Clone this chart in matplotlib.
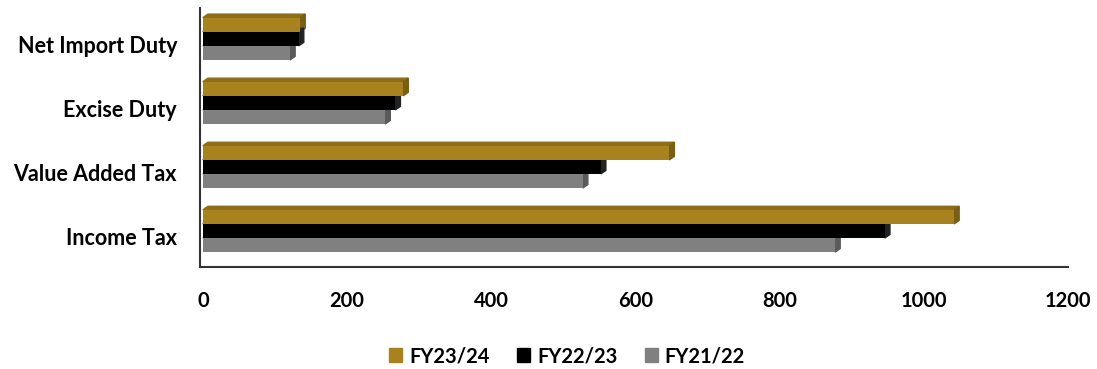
import matplotlib.pyplot as plt
import matplotlib.transforms as mtransforms
from matplotlib.patches import Polygon
import numpy as np

categories = ['Income Tax', 'Value Added Tax', 'Excise Duty', 'Net Import Duty']
series_names = ['FY23/24', 'FY22/23', 'FY21/22']
fy2324 = [1042, 647, 278, 135]
fy2223 = [946, 552, 267, 133]
fy2122 = [877, 527, 253, 121]
colors = ['#A8821E', '#000000', '#808080']
side_colors = ['#7A5E12', '#222222', '#5A5A5A']
top_colors = ['#8E6D17', '#333333', '#6A6A6A']

plt.rcParams['font.family'] = ['Lato', 'DejaVu Sans']
plt.rcParams['font.weight'] = 'bold'

fig = plt.figure(figsize=(10.97, 3.69), dpi=100)
ax = fig.add_axes([0.1823, 0.2764, 0.7913, 0.7019])

y = np.arange(len(categories))
h = 0.22
offsets = [h, 0, -h]
dx, dy = 7, 0.055  # fake 3d depth

for vals, off, c, sc, tc in zip([fy2324, fy2223, fy2122], offsets, colors, side_colors, top_colors):
    bars = ax.barh(y + off, vals, height=h, color=c, zorder=3)
    for b in bars:
        x0, y0 = b.get_x(), b.get_y()
        w, hh = b.get_width(), b.get_height()
        top = Polygon([[x0, y0 + hh], [x0 + dx, y0 + hh + dy], [x0 + w + dx, y0 + hh + dy], [x0 + w, y0 + hh]],
                      closed=True, color=tc, zorder=2)
        side = Polygon([[x0 + w, y0], [x0 + w + dx, y0 + dy], [x0 + w + dx, y0 + hh + dy], [x0 + w, y0 + hh]],
                       closed=True, color=sc, zorder=2)
        ax.add_patch(top)
        ax.add_patch(side)

ax.set_xlim(-4, 1200)
ax.set_ylim(-0.5625, 3.48)
ax.set_xticks([0, 200, 400, 600, 800, 1000, 1200])
ax.set_yticks(y)
ax.set_yticklabels(categories)
ax.tick_params(axis='x', length=0, pad=17.5, labelsize=14.5)
ax.tick_params(axis='y', length=0, pad=16.5, labelsize=15.5)

# category labels sit a little below the bar group centre
shift = mtransforms.ScaledTranslation(0, -0.055, fig.dpi_scale_trans)
for lbl in ax.get_yticklabels():
    lbl.set_transform(lbl.get_transform() + shift)

for s in ['top', 'right']:
    ax.spines[s].set_visible(False)
for s in ['left', 'bottom']:
    ax.spines[s].set_color('#333333')
    ax.spines[s].set_linewidth(1.5)

handles = [plt.Rectangle((0, 0), 1, 1, color=c) for c in colors]
fig.legend(handles, series_names, loc='center', bbox_to_anchor=(0.517, 0.035), ncol=3, frameon=False,
           fontsize=14.5, handlelength=0.65, handleheight=0.65, columnspacing=1.35, handletextpad=0.35)

fig.savefig('out.png', dpi=100)
